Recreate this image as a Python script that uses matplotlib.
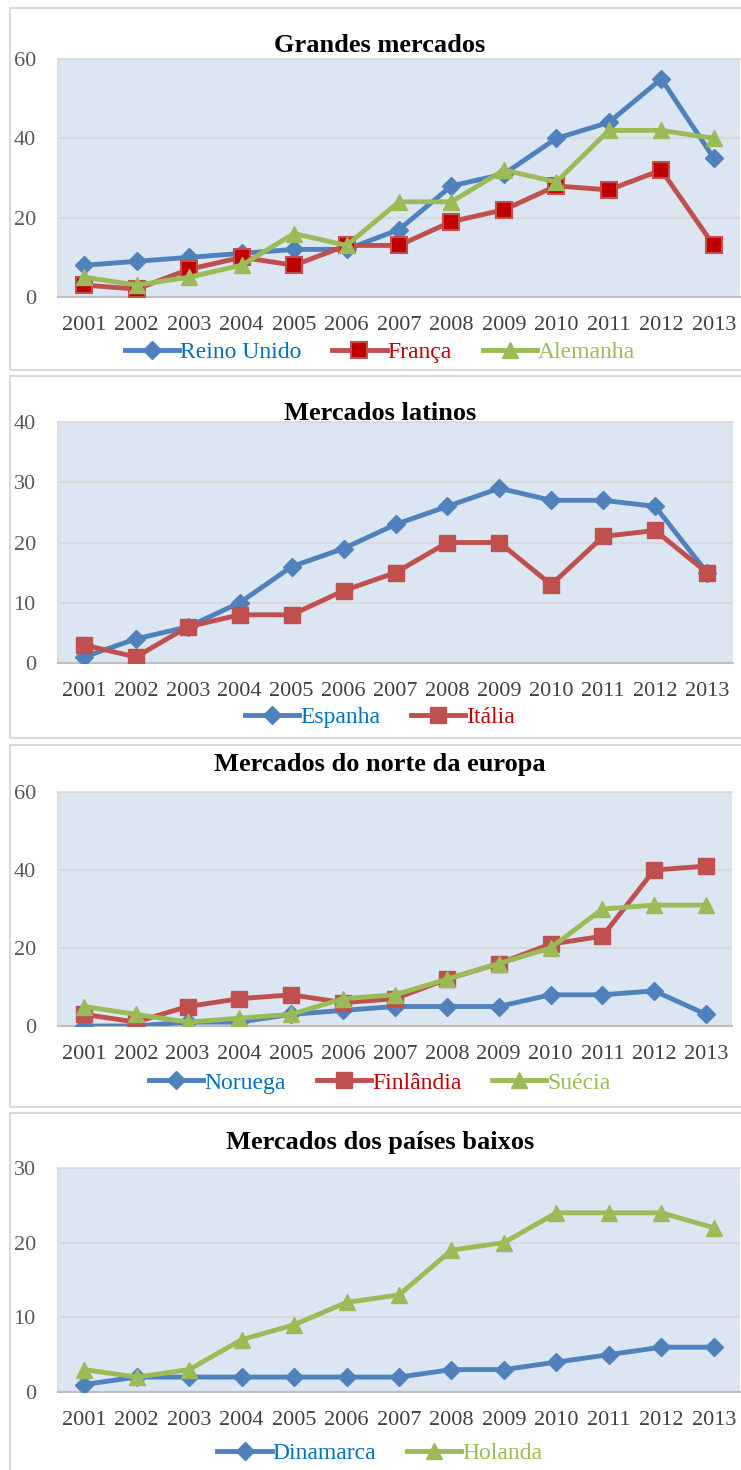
import matplotlib
matplotlib.use('Agg')
import matplotlib.pyplot as plt
from matplotlib.patches import Rectangle

plt.rcParams['font.family'] = ['Liberation Serif', 'DejaVu Serif']

years = ['2001', '2002', '2003', '2004', '2005', '2006', '2007',
         '2008', '2009', '2010', '2011', '2012', '2013']

# Grandes mercados
reino_unido = [8, 9, 10, 11, 12, 12, 17, 28, 31, 40, 44, 55, 35]
franca = [3, 2, 7, 10, 8, 13, 13, 19, 22, 28, 27, 32, 13]
alemanha = [5, 3, 5, 8, 16, 13, 24, 24, 32, 29, 42, 42, 40]

# Mercados latinos
espanha = [1, 4, 6, 10, 16, 19, 23, 26, 29, 27, 27, 26, 15]
italia = [3, 1, 6, 8, 8, 12, 15, 20, 20, 13, 21, 22, 15]

# Mercados do norte da europa
noruega = [0, 0, 1, 1, 3, 4, 5, 5, 5, 8, 8, 9, 3]
finlandia = [3, 1, 5, 7, 8, 6, 7, 12, 16, 21, 23, 40, 41]
suecia = [5, 3, 1, 2, 3, 7, 8, 12, 16, 20, 30, 31, 31]

# Mercados dos países baixos
dinamarca = [1, 2, 2, 2, 2, 2, 2, 3, 3, 4, 5, 6, 6]
holanda = [3, 2, 3, 7, 9, 12, 13, 19, 20, 24, 24, 24, 22]

BLUE = '#4F81BD'
RED = '#C0504D'
GREEN = '#9BBB59'
TXT_BLUE = '#0070C0'
TXT_RED = '#C00000'
BG = '#DCE6F2'
GRID = '#D9D9D9'

W, H = 741, 1470
fig = plt.figure(figsize=(W / 100, H / 100), dpi=100)


def px_axes(x0, y0, x1, y1):
    # pixel box (top-left origin) -> figure fraction
    return fig.add_axes([x0 / W, 1 - y1 / H, (x1 - x0) / W, (y1 - y0) / H])


def panel_box(y0, y1):
    fig.patches.append(Rectangle((10 / W, 1 - y1 / H), (W + 5) / W, (y1 - y0) / H,
                                 transform=fig.transFigure, fill=False,
                                 edgecolor=GRID, lw=1.5))


def series(ax, vals, kind):
    x = range(len(vals))
    if kind == 'blue':
        ax.plot(x, vals, color=BLUE, lw=3.5, marker='D', ms=9,
                mfc=BLUE, mec=BLUE, zorder=3)
    elif kind == 'red':
        ax.plot(x, vals, color=RED, lw=3.5, marker='s', ms=11,
                mfc=RED, mec=RED, zorder=3)
    elif kind == 'darkred':
        ax.plot(x, vals, color=RED, lw=3.5, marker='s', ms=11,
                mfc=TXT_RED, mec=RED, mew=1.5, zorder=3)
    else:
        ax.plot(x, vals, color=GREEN, lw=3.5, marker='^', ms=12,
                mfc=GREEN, mec=GREEN, zorder=3)


def panel(box, title, title_y, ymax, step, data, labels, colors, kinds, leg_y):
    ax = px_axes(*box)
    ax.set_facecolor(BG)
    for k, v in zip(kinds, data):
        series(ax, v, k)
    ax.set_xlim(-0.5, len(years) - 0.5)
    ax.set_ylim(0, ymax)
    ax.set_yticks(range(0, ymax + 1, step))
    ax.set_xticks(range(len(years)))
    ax.set_xticklabels(years)
    ax.tick_params(length=0, labelsize=16, colors='#404040')
    ax.tick_params(axis='y', pad=16, labelcolor='#595959')
    ax.tick_params(axis='x', pad=14)
    ax.grid(axis='y', color=GRID, lw=1.5)
    ax.set_axisbelow(True)
    for s in ['top', 'left', 'right']:
        ax.spines[s].set_color(GRID)
        ax.spines[s].set_linewidth(1.2)
    ax.spines['right'].set_visible(False)
    ax.spines['bottom'].set_color('#BFBFBF')
    ax.spines['bottom'].set_linewidth(1.5)
    fig.text(380 / W, 1 - title_y / H, title, ha='center', va='center',
             fontsize=19, fontweight='bold', color='black')
    lg = ax.legend(labels, loc='center', ncol=len(labels),
                   bbox_to_anchor=(380 / W, 1 - leg_y / H),
                   bbox_transform=fig.transFigure, frameon=False,
                   fontsize=17, handlelength=2.3, handletextpad=0.05,
                   columnspacing=1.3, labelcolor=colors)
    return ax


panel_box(8, 370)
panel((58, 59, 740, 297), 'Grandes mercados', 45, 60, 20,
      [reino_unido, franca, alemanha], ['Reino Unido', 'França', 'Alemanha'],
      [TXT_BLUE, TXT_RED, GREEN], ['blue', 'darkred', 'green'], 352)

panel_box(376, 738)
panel((58, 422, 733, 663), 'Mercados latinos', 413, 40, 10,
      [espanha, italia], ['Espanha', 'Itália'],
      [TXT_BLUE, TXT_RED], ['blue', 'red'], 717)

panel_box(745, 1107)
panel((58, 792, 732, 1026), 'Mercados do norte da europa', 765, 60, 20,
      [noruega, finlandia, suecia], ['Noruega', 'Finlândia', 'Suécia'],
      [TXT_BLUE, TXT_RED, GREEN], ['blue', 'red', 'green'], 1083)

panel_box(1113, 1480)
panel((58, 1168, 740, 1392), 'Mercados dos países baixos', 1143, 30, 10,
      [dinamarca, holanda], ['Dinamarca', 'Holanda'],
      [TXT_BLUE, GREEN], ['blue', 'green'], 1453)

fig.savefig('out.png', dpi=100)
